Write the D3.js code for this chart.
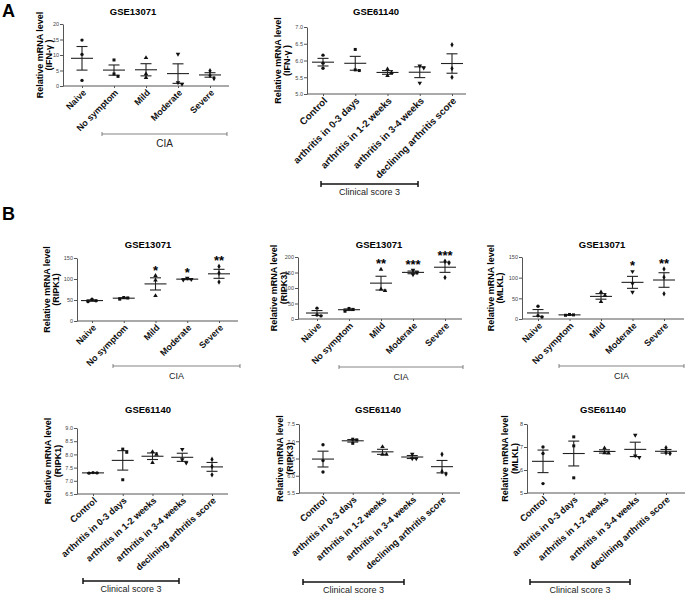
<!DOCTYPE html>
<html lang="en">
<head>
<meta charset="utf-8">
<title>IFN-γ / RIPK1 / RIPK3 / MLKL mRNA</title>
<script src="https://cdn.jsdelivr.net/npm/d3@7"></script>
<style>
  body { margin: 0; background: #fff; }
  svg text { font-family: 'Liberation Sans', Arial, sans-serif; }
</style>
</head>
<body>
<svg id="fig" width="685" height="595"></svg>
<script>
// group names
var ciaGroups = ["Naive", "No symptom", "Mild", "Moderate", "Severe"];
var clinGroups = ["Control", "arthritis in 0-3 days", "arthritis in 1-2 weeks",
                  "arthritis in 3-4 weeks", "declining arthritis score"];

// three samples per group
var ifngCia  = [[14.8, 10.2, 1.8], [8.4, 3.9, 3.1], [9.1, 3.9, 2.7], [10.3, 1.1, 0.6], [4.9, 3.4, 2.4]];
var ifngClin = [[6.16, 5.92, 5.77], [6.33, 5.72, 5.70], [5.74, 5.64, 5.55], [5.84, 5.78, 5.33], [6.47, 5.76, 5.50]];
var ripk1Cia = [[52, 48, 46], [56, 55, 52], [108, 97, 60], [102, 99, 98], [130, 114, 93]];
var ripk3Cia = [[35, 13, 10], [34, 31, 25], [160, 96, 91], [158, 150, 143], [186, 181, 134]];
var mlklCia  = [[31, 8, 5], [11, 10, 9], [65, 57, 42], [115, 86, 65], [121, 101, 61]];
var ripk1Clin = [[7.31, 7.30, 7.29], [8.20, 8.08, 7.04], [8.10, 8.00, 7.69], [8.19, 7.80, 7.68], [7.81, 7.54, 7.23]];
var ripk3Clin = [[6.90, 6.44, 6.11], [7.06, 7.04, 6.94], [6.84, 6.62, 6.62], [6.63, 6.50, 6.50], [6.62, 6.12, 6.05]];
var mlklClin  = [[7.00, 6.72, 5.41], [7.44, 7.05, 5.66], [6.95, 6.74, 6.73], [7.52, 6.62, 6.55], [6.97, 6.75, 6.72]];

// significance marks
var starsRipk1 = ["", "", "*", "*", "**"];
var starsRipk3 = ["", "", "**", "***", "***"];
var starsMlkl  = ["", "", "", "*", "**"];

// y ticks
var ticksIfngCia  = [0, 5, 10, 15, 20];
var ticksIfngClin = [5.0, 5.5, 6.0, 6.5, 7.0];
var ticksRipk1Cia = [0, 50, 100, 150];
var ticksRipk3Cia = [0, 50, 100, 150, 200];
var ticksMlklCia  = [0, 50, 100, 150];
var ticksRipk1Clin = [6.5, 7.0, 7.5, 8.0, 8.5, 9.0];
var ticksRipk3Clin = [5.5, 6.0, 6.5, 7.0, 7.5];
var ticksMlklClin  = [5, 6, 7, 8];

var svg = d3.select("#fig");
var symbols = [d3.symbolCircle, d3.symbolSquare, d3.symbolTriangle, d3.symbolTriangle, d3.symbolDiamond];

function panel(p, L) {
  var g = svg.append("g");
  var x = d3.scalePoint().domain(p.cats).range([L.c0, L.c1]);
  var y = d3.scaleLinear().domain(d3.extent(p.ticks)).range([L.yB, L.yT]);

  // y axis
  var ya = g.append("g").attr("transform", "translate(" + L.x0 + ",0)")
    .call(d3.axisLeft(y).tickValues(p.ticks).tickFormat(d3.format(p.fmt))
      .tickSize(3).tickSizeOuter(0).tickPadding(1));
  ya.select(".domain").attr("stroke", "#555");
  ya.selectAll(".tick line").attr("stroke", "#555");
  ya.selectAll(".tick text").attr("font-size", 5.5).attr("fill", "#444");

  // x axis, slanted labels
  var xa = g.append("g").attr("transform", "translate(0," + L.yB + ")")
    .call(d3.axisBottom(x).tickSize(2).tickSizeOuter(0));
  xa.select(".domain").attr("d", "M" + L.x0 + ",0H" + L.x1).attr("stroke", "#555");
  xa.selectAll(".tick line").attr("stroke", "#555");
  xa.selectAll(".tick text")
    .attr("font-size", L.xfs).attr("font-weight", "bold").attr("fill", "#111")
    .attr("text-anchor", "end").attr("x", 0).attr("y", 0).attr("dy", "0.35em")
    .attr("transform", "translate(2,5) rotate(" + (-L.rot) + ")");

  // title
  g.append("text").attr("x", L.tx).attr("y", L.ty).attr("text-anchor", "middle")
    .attr("font-size", 9.5).attr("font-weight", "bold").text(p.title);

  // y label, two lines
  [["Relative mRNA level", L.lx], [p.gene, L.lx2]].forEach(function(t) {
    g.append("text")
      .attr("transform", "translate(" + t[1] + "," + ((L.yT + L.yB) / 2) + ") rotate(-90)")
      .attr("text-anchor", "middle").attr("dy", "0.35em")
      .attr("font-size", 9).attr("font-weight", "bold").text(t[0]);
  });

  // groups: points, mean and SEM
  p.vals.forEach(function(vals, i) {
    var cx = x(p.cats[i]);
    var m = d3.mean(vals), se = d3.deviation(vals) / Math.sqrt(vals.length);
    var gg = g.append("g").attr("stroke", "#222").attr("stroke-width", 1.1);
    gg.append("line").attr("x1", cx).attr("x2", cx).attr("y1", y(m + se)).attr("y2", y(m - se));
    [m + se, m - se].forEach(function(v) {
      gg.append("line").attr("x1", cx - 5.5).attr("x2", cx + 5.5).attr("y1", y(v)).attr("y2", y(v));
    });
    gg.append("line").attr("x1", cx - 11).attr("x2", cx + 11).attr("y1", y(m)).attr("y2", y(m));

    // simple spread so close points do not overlap
    var placed = [];
    vals.slice().sort(d3.descending).forEach(function(v) {
      var py = y(v), off = 0;
      var tries = [0, 4, -4, 8, -8];
      for (var k = 0; k < tries.length; k++) {
        var ok = placed.every(function(q) {
          return Math.abs(q.dx - tries[k]) >= 3.5 || Math.abs(q.py - py) >= 3.5;
        });
        if (ok) { off = tries[k]; break; }
      }
      placed.push({dx: off, py: py});
      g.append("path")
        .attr("d", d3.symbol().type(symbols[i]).size(9)())
        .attr("transform", "translate(" + (cx + off) + "," + py + ")" + (i == 3 ? " rotate(180)" : ""))
        .attr("fill", "#111");
    });

    if (p.stars && p.stars[i]) {
      var top = Math.max(d3.max(vals), m + se);
      g.append("text").attr("x", cx).attr("y", y(top) - 1).attr("text-anchor", "middle")
        .attr("font-size", 13).attr("font-weight", "bold").text(p.stars[i]);
    }
  });

  // group bracket
  var b = g.append("g").attr("stroke", L.thick ? "#111" : "#666").attr("stroke-width", L.thick ? 1.5 : 0.8);
  var h = L.thick ? 3 : 2;
  b.append("line").attr("x1", L.bx0).attr("x2", L.bx1).attr("y1", L.by).attr("y2", L.by);
  [L.bx0, L.bx1].forEach(function(bx) {
    b.append("line").attr("x1", bx).attr("x2", bx).attr("y1", L.by - h).attr("y2", L.by + h);
  });
  g.append("text").attr("x", (L.bx0 + L.bx1) / 2).attr("y", L.by + (L.thick ? 11 : 12.5))
    .attr("text-anchor", "middle").attr("font-size", L.bfs).attr("fill", "#222").text(p.bracket);
}

panel({title: "GSE13071", gene: "(IFN-γ )", cats: ciaGroups, vals: ifngCia, ticks: ticksIfngCia, fmt: "d", bracket: "CIA"},
  {x0: 63, x1: 229, c0: 82, c1: 210, yT: 24, yB: 86, tx: 133, ty: 15, lx: 40, lx2: 49, bx0: 102, bx1: 227, by: 134, thick: false, xfs: 9, rot: 45, bfs: 10});
panel({title: "GSE61140", gene: "(IFN-γ )", cats: clinGroups, vals: ifngClin, ticks: ticksIfngClin, fmt: ".1f", bracket: "Clinical score 3"},
  {x0: 307, x1: 466, c0: 323, c1: 452, yT: 27, yB: 94, tx: 376, ty: 15, lx: 278, lx2: 287, bx0: 321, bx1: 418, by: 184, thick: true, xfs: 9.7, rot: 45, bfs: 9});

panel({title: "GSE13071", gene: "(RIPK1)", cats: ciaGroups, vals: ripk1Cia, stars: starsRipk1, ticks: ticksRipk1Cia, fmt: "d", bracket: "CIA"},
  {x0: 77, x1: 238, c0: 92, c1: 219, yT: 258, yB: 321, tx: 148, ty: 248, lx: 47, lx2: 56, bx0: 113, bx1: 240, by: 366, thick: false, xfs: 9, rot: 45, bfs: 9});
panel({title: "GSE13071", gene: "(RIPK3)", cats: ciaGroups, vals: ripk3Cia, stars: starsRipk3, ticks: ticksRipk3Cia, fmt: "d", bracket: "CIA"},
  {x0: 298, x1: 462, c0: 317, c1: 445, yT: 257, yB: 319, tx: 379, ty: 248, lx: 274, lx2: 284, bx0: 339, bx1: 463, by: 367, thick: false, xfs: 9, rot: 45, bfs: 9});
panel({title: "GSE13071", gene: "(MLKL)", cats: ciaGroups, vals: mlklCia, stars: starsMlkl, ticks: ticksMlklCia, fmt: "d", bracket: "CIA"},
  {x0: 522, x1: 684, c0: 538, c1: 664, yT: 257, yB: 319, tx: 602, ty: 248, lx: 491, lx2: 500, bx0: 559, bx1: 684, by: 366, thick: false, xfs: 9, rot: 45, bfs: 9});

panel({title: "GSE61140", gene: "(RIPK1)", cats: clinGroups, vals: ripk1Clin, ticks: ticksRipk1Clin, fmt: ".1f", bracket: "Clinical score 3"},
  {x0: 77, x1: 228, c0: 93, c1: 212, yT: 428, yB: 494, tx: 148, ty: 413, lx: 48, lx2: 58, bx0: 83, bx1: 179, by: 581, thick: true, xfs: 9.2, rot: 42, bfs: 9});
panel({title: "GSE61140", gene: "(RIPK3)", cats: clinGroups, vals: ripk3Clin, ticks: ticksRipk3Clin, fmt: ".1f", bracket: "Clinical score 3"},
  {x0: 299, x1: 460, c0: 323, c1: 442, yT: 424, yB: 493, tx: 378, ty: 413, lx: 280, lx2: 290, bx0: 303, bx1: 404, by: 582, thick: true, xfs: 9.2, rot: 42, bfs: 9});
panel({title: "GSE61140", gene: "(MLKL)", cats: clinGroups, vals: mlklClin, ticks: ticksMlklClin, fmt: "d", bracket: "Clinical score 3"},
  {x0: 527, x1: 685, c0: 543, c1: 666, yT: 424, yB: 493, tx: 603, ty: 413, lx: 505, lx2: 515, bx0: 530, bx1: 630, by: 582, thick: true, xfs: 9.2, rot: 42, bfs: 9});

// panel letters
svg.append("text").attr("x", 2).attr("y", 17).attr("font-size", 18).attr("font-weight", "bold").text("A");
svg.append("text").attr("x", 2).attr("y", 220).attr("font-size", 18).attr("font-weight", "bold").text("B");
</script>
</body>
</html>
